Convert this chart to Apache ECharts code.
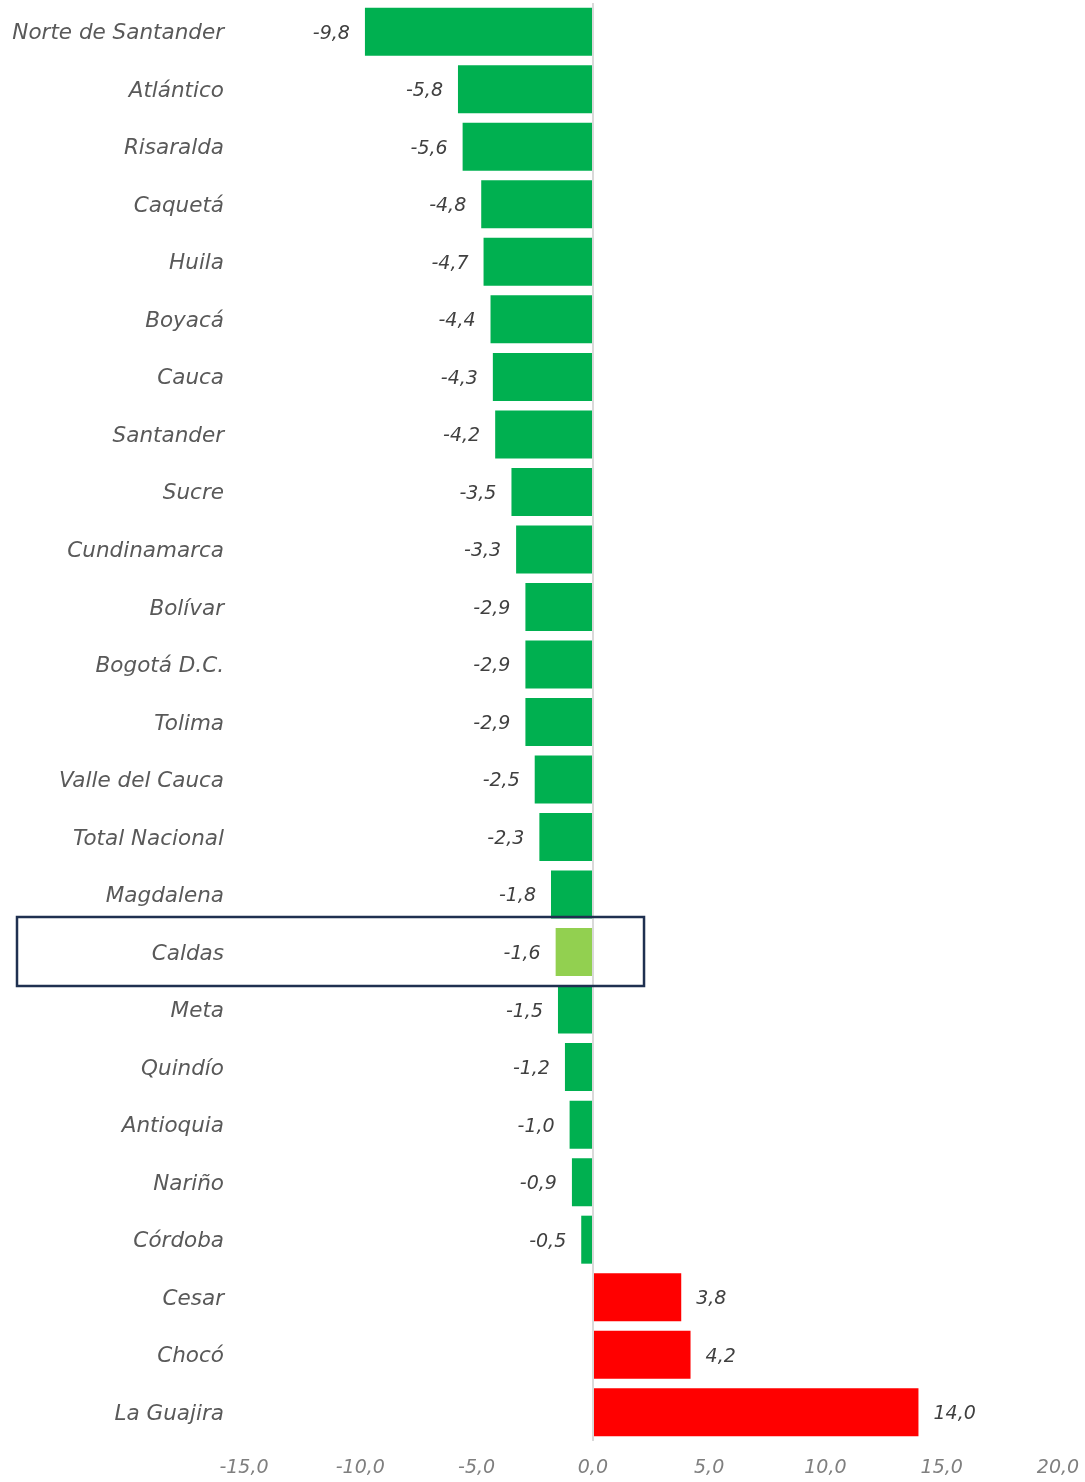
<!DOCTYPE html>
<html><head><meta charset="utf-8">
<script src="https://cdn.jsdelivr.net/npm/echarts@6/dist/echarts.min.js"></script>
<style>html,body{margin:0;padding:0;background:#fff}#c{width:1085px;height:1482px}</style>
</head><body><div id="c"></div>
<script>
const categories = ["Norte de Santander","Atlántico","Risaralda","Caquetá","Huila","Boyacá","Cauca","Santander","Sucre","Cundinamarca","Bolívar","Bogotá D.C.","Tolima","Valle del Cauca","Total Nacional","Magdalena","Caldas","Meta","Quindío","Antioquia","Nariño","Córdoba","Cesar","Chocó","La Guajira"];
const values = [-9.8,-5.8,-5.6,-4.8,-4.7,-4.4,-4.3,-4.2,-3.5,-3.3,-2.9,-2.9,-2.9,-2.5,-2.3,-1.8,-1.6,-1.5,-1.2,-1.0,-0.9,-0.5,3.8,4.2,14.0];
const highlight = "Caldas";
const xTicks = {min:-15, max:20, interval:5};

const FONT = "'DejaVu Sans', sans-serif";
const fmt = v => v.toFixed(1).replace('.', ',');

const chart = echarts.init(document.getElementById('c'));
const data = values.map((v,i) => ({
  value: v,
  itemStyle: {color: categories[i] === highlight ? '#92D050' : (v < 0 ? '#00B050' : '#FF0000')},
  label: {position: v < 0 ? 'left' : 'right'}
}));
chart.setOption({
  animation: false,
  grid: {left: 244, right: 27, top: 3, bottom: 41, containLabel: false},
  xAxis: {
    type: 'value', min: xTicks.min, max: xTicks.max, interval: xTicks.interval,
    axisLine: {show: false}, axisTick: {show: false}, splitLine: {show: false},
    axisLabel: {formatter: v => fmt(v), color: '#7f7f7f', fontFamily: FONT, fontStyle: 'italic', fontSize: 19, margin: 18}
  },
  yAxis: {
    type: 'category', data: categories, inverse: true,
    axisLine: {show: false, onZero: false}, axisTick: {show: false},
    axisLabel: {
      formatter: v => '{a|' + v + '}', margin: 20,
      rich: {a: {color: '#595959', fontFamily: FONT, fontStyle: 'italic', fontSize: 21.5, padding: [4, 0, 0, 0]}}
    }
  },
  series: [{
    type: 'bar', data: data, barWidth: 48,
    label: {show: true, formatter: p => fmt(p.value), color: '#404040', fontFamily: FONT, fontStyle: 'italic', fontSize: 19, distance: 15, offset: [0, 2]},
    markLine: {
      silent: true, symbol: 'none', label: {show: false},
      lineStyle: {color: '#d9d9d9', width: 2, type: 'solid'},
      data: [{xAxis: 0}]
    }
  }]
});

// annotation box around highlighted row
const yc = chart.convertToPixel({yAxisIndex: 0}, highlight);
const xr = chart.convertToPixel({xAxisIndex: 0}, 2.2);
chart.setOption({
  graphic: [{
    type: 'rect', shape: {x: 17, y: yc - 35, width: xr - 17, height: 69},
    style: {fill: 'none', stroke: '#1F3050', lineWidth: 2.5}, z: 100
  }]
});
</script></body></html>
